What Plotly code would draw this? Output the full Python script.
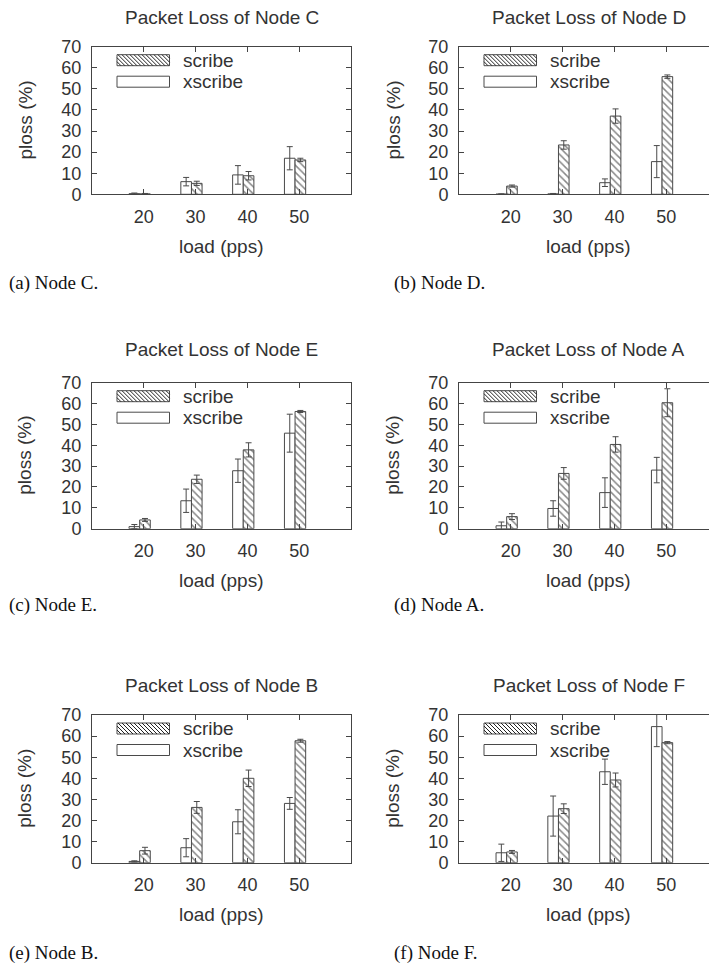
import plotly.graph_objects as go

# ---------------- data ----------------
loads = ['20', '30', '40', '50']
y_ticks = [0, 10, 20, 30, 40, 50, 60, 70]

node_titles = ['Packet Loss of Node C', 'Packet Loss of Node D', 'Packet Loss of Node E',
               'Packet Loss of Node A', 'Packet Loss of Node B', 'Packet Loss of Node F']
captions = ['(a) Node C.', '(b) Node D.', '(c) Node E.', '(d) Node A.', '(e) Node B.', '(f) Node F.']

scribe_C = [0.2, 5.2, 8.8, 16.3]
scribe_C_err = [0.2, 1.0, 2.0, 0.8]
xscribe_C = [0.3, 6.0, 9.2, 17.1]
xscribe_C_err = [0.3, 2.0, 4.4, 5.5]

scribe_D = [3.9, 23.4, 37.1, 55.8]
scribe_D_err = [0.5, 2.0, 3.4, 0.8]
xscribe_D = [0.1, 0.2, 5.5, 15.5]
xscribe_D_err = [0.1, 0.2, 1.8, 7.6]

scribe_E = [4.2, 23.7, 37.8, 56.2]
scribe_E_err = [0.7, 2.0, 3.4, 0.5]
xscribe_E = [1.0, 13.4, 27.8, 45.8]
xscribe_E_err = [1.0, 5.6, 5.6, 9.1]

scribe_A = [5.8, 26.5, 40.4, 60.4]
scribe_A_err = [1.4, 2.8, 3.7, 6.7]
xscribe_A = [1.4, 9.7, 17.3, 28.1]
xscribe_A_err = [1.8, 3.7, 7.1, 6.1]

scribe_B = [5.7, 26.2, 40.0, 57.8]
scribe_B_err = [1.6, 2.8, 3.9, 0.7]
xscribe_B = [0.6, 7.1, 19.4, 28.1]
xscribe_B_err = [0.3, 4.3, 5.7, 2.8]

scribe_F = [5.1, 25.6, 39.2, 56.9]
scribe_F_err = [0.7, 2.3, 3.3, 0.5]
xscribe_F = [4.7, 22.1, 43.1, 64.5]
xscribe_F_err = [4.1, 9.5, 6.0, 9.5]

panels = [
    (scribe_C, scribe_C_err, xscribe_C, xscribe_C_err),
    (scribe_D, scribe_D_err, xscribe_D, xscribe_D_err),
    (scribe_E, scribe_E_err, xscribe_E, xscribe_E_err),
    (scribe_A, scribe_A_err, xscribe_A, xscribe_A_err),
    (scribe_B, scribe_B_err, xscribe_B, xscribe_B_err),
    (scribe_F, scribe_F_err, xscribe_F, xscribe_F_err),
]

# ---------------- layout geometry (px) ----------------
W, H = 709, 963
UNIT = 51.8                     # px per category step
col_left = [92, 459]
row_y0 = [194.3, 528.7, 862.7]  # px of y = 0
row_y70 = [46.7, 382.7, 715.0]  # px of y = 70
title_y = [17, 350, 685]
caption_y = [283, 605, 952.5]
caption_x = [7, 392]
ytitle_x = [25, 393]

TXT = '#333333'
AX = '#444444'
SANS = 'Liberation Sans, Arial, sans-serif'
SERIF = 'Liberation Serif, Times New Roman, serif'


def px(x):
    return x / W


def py(y):
    return 1 - y / H


fig = go.Figure()
shapes = []
annotations = []

for i, (sc, sce, xs, xse) in enumerate(panels):
    r, c = divmod(i, 2)
    n = i + 1
    xa = 'x' if n == 1 else f'x{n}'
    ya = 'y' if n == 1 else f'y{n}'
    left = col_left[c]
    right = min(left + 5 * UNIT, W)
    top, bot = row_y70[r], row_y0[r]

    fig.add_trace(go.Bar(
        x=loads, y=xs, name='xscribe', xaxis=xa, yaxis=ya,
        width=0.205, offset=-0.285,
        marker=dict(color='white', line=dict(color='#4a4a4a', width=1)),
        error_y=dict(type='data', array=xse, visible=True, color='#4a4a4a', thickness=1, width=3),
        showlegend=False))
    fig.add_trace(go.Bar(
        x=loads, y=sc, name='scribe', xaxis=xa, yaxis=ya,
        width=0.205, offset=-0.08,
        marker=dict(color='white', line=dict(color='#4a4a4a', width=1),
                    pattern=dict(shape='\\', fgcolor='#111111', bgcolor='white', size=5, solidity=0.3)),
        error_y=dict(type='data', array=sce, visible=True, color='#4a4a4a', thickness=1, width=3),
        showlegend=False))

    xr_max = -1 + (right - left) / UNIT
    axis_common = dict(showline=True, linecolor=AX, linewidth=1, ticks='inside', ticklen=5,
                       tickcolor=AX, tickfont=dict(family=SANS, size=18, color=TXT),
                       showgrid=False, zeroline=False, automargin=False)
    fig.update_layout(**{
        ('xaxis' if n == 1 else f'xaxis{n}'): dict(
            domain=[px(left), px(right)], anchor=ya, type='category',
            categoryorder='array', categoryarray=loads,
            range=[-1, xr_max], mirror='ticks', ticklabelstandoff=6, **axis_common),
        ('yaxis' if n == 1 else f'yaxis{n}'): dict(
            domain=[py(bot), py(top)], anchor=xa, range=[0, 70], tickvals=y_ticks,
            mirror=('ticks' if c == 0 else False), ticklabelstandoff=6, **axis_common),
    })

    cx = (left + left + 5 * UNIT) / 2
    annotations.append(dict(text=node_titles[i], x=px(cx), y=py(title_y[r]), xref='paper', yref='paper',
                            showarrow=False, xanchor='center', yanchor='middle',
                            font=dict(family=SANS, size=19, color=TXT)))
    annotations.append(dict(text='load (pps)', x=px(cx), y=py(bot + 52), xref='paper', yref='paper',
                            showarrow=False, xanchor='center', yanchor='middle',
                            font=dict(family=SANS, size=19, color=TXT)))
    annotations.append(dict(text='ploss (%)', x=px(ytitle_x[c]), y=py((top + bot) / 2), xref='paper',
                            yref='paper', showarrow=False, xanchor='center', yanchor='middle',
                            textangle=-90, font=dict(family=SANS, size=19, color=TXT)))
    annotations.append(dict(text=captions[i], x=px(caption_x[c]), y=py(caption_y[r]), xref='paper',
                            yref='paper', showarrow=False, xanchor='left', yanchor='middle',
                            font=dict(family=SERIF, size=19, color='#111111')))

    # legend swatches (drawn) + labels
    sx0, sx1 = left + 25, left + 77.5
    for k, (label, hatched) in enumerate([('scribe', True), ('xscribe', False)]):
        sy0 = top + 8 + k * 21.5
        sy1 = sy0 + 11
        shapes.append(dict(type='rect', xref='paper', yref='paper', x0=px(sx0), x1=px(sx1),
                           y0=py(sy1), y1=py(sy0), line=dict(color='#4a4a4a', width=1),
                           fillcolor='white'))
        if hatched:
            h = sy1 - sy0
            path = ''
            xx = sx0 - h
            while xx < sx1:
                t0 = max(0, sx0 - xx)
                t1 = min(h, sx1 - xx)
                if t1 > t0:
                    path += f'M{px(xx + t0)},{py(sy0 + t0)} L{px(xx + t1)},{py(sy0 + t1)} '
                xx += 4
            shapes.append(dict(type='path', xref='paper', yref='paper', path=path,
                               line=dict(color='#222222', width=1)))
        annotations.append(dict(text=label, x=px(left + 89), y=py((sy0 + sy1) / 2), xref='paper',
                                yref='paper', showarrow=False, xanchor='left', yanchor='middle',
                                font=dict(family=SANS, size=19, color=TXT)))

fig.update_layout(
    width=W, height=H, margin=dict(l=0, r=0, t=0, b=0, autoexpand=False),
    paper_bgcolor='white', plot_bgcolor='white',
    barmode='overlay', shapes=shapes, annotations=annotations,
    showlegend=False,
)

# the page's default 8px body margin would shift the whole figure
fig.write_html('out.html', config={'displayModeBar': False},
               post_script="document.body.style.margin='0';")
